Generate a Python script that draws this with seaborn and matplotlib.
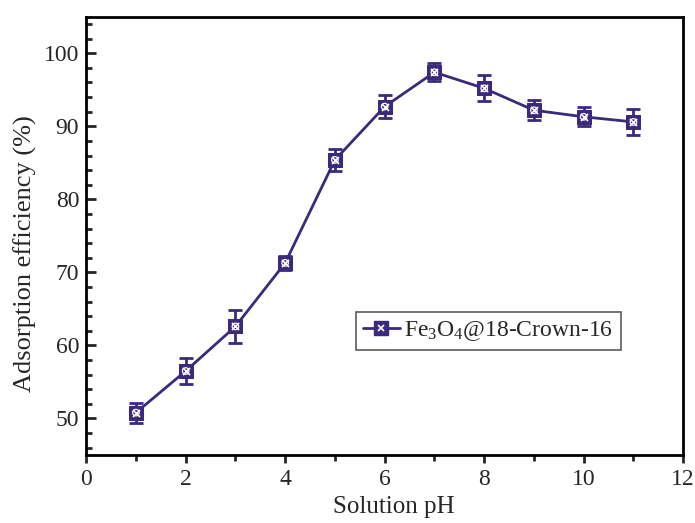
import numpy as np
import pandas as pd
import seaborn as sns
import matplotlib.pyplot as plt
from matplotlib.ticker import MultipleLocator
from matplotlib.lines import Line2D

ph = [1, 2, 3, 4, 5, 6, 7, 8, 9, 10, 11]
efficiency = [50.8, 56.5, 62.6, 71.3, 85.4, 92.7, 97.4, 95.2, 92.2, 91.3, 90.6]
err = [1.35, 1.8, 2.3, 1.0, 1.5, 1.6, 1.2, 1.8, 1.4, 1.3, 1.75]
label = "Fe$_3$O$_4$@18-Crown-16"

df = pd.DataFrame({"ph": ph, "eff": efficiency, "err": err})

sns.set_theme(style="white")
plt.rcParams["font.family"] = ["Liberation Serif", "DejaVu Serif"]
plt.rcParams["mathtext.fontset"] = "custom"
plt.rcParams["mathtext.rm"] = "Liberation Serif"
plt.rcParams["mathtext.it"] = "Liberation Serif"

color = "#3b2a7c"

fig = plt.figure(figsize=(6.95, 5.23), dpi=100)
ax = fig.add_axes([0.124, 0.130, 0.859, 0.838])

ax.errorbar(df["ph"], df["eff"], yerr=df["err"], fmt="none", ecolor=color,
            elinewidth=2, capsize=5, capthick=2, zorder=2)
sns.lineplot(data=df, x="ph", y="eff", color=color, linewidth=2, ax=ax,
             marker="s", markersize=10, markeredgecolor=color, zorder=3)
sns.scatterplot(data=df, x="ph", y="eff", marker="x", color="white", s=26,
                linewidth=1.2, ax=ax, zorder=4)
sns.scatterplot(data=df, x="ph", y="eff", marker="o", facecolor="none",
                edgecolor="white", s=22, linewidth=0.9, ax=ax, zorder=4)

ax.set_xlim(0, 12)
ax.set_ylim(45, 105)
ax.xaxis.set_major_locator(MultipleLocator(2))
ax.xaxis.set_minor_locator(MultipleLocator(1))
ax.yaxis.set_major_locator(MultipleLocator(10))
ax.yaxis.set_minor_locator(MultipleLocator(2))
ax.tick_params(axis="x", which="major", direction="out", length=6, width=2, labelsize=17, pad=4)
ax.tick_params(axis="x", which="minor", direction="out", length=4, width=2)
ax.tick_params(axis="y", which="major", direction="in", length=7, width=2, labelsize=17, pad=5)
ax.tick_params(axis="y", which="minor", direction="in", length=4, width=2)
ax.tick_params(bottom=True, left=True, which="both")
for s in ax.spines.values():
    s.set_linewidth(2)
    s.set_color("black")

ax.set_xlabel("Solution pH", fontsize=18)
ax.set_ylabel("Adsorption efficiency (%)", fontsize=19)
ax.xaxis.set_label_coords(0.515, -0.094)
ax.yaxis.set_label_coords(-0.082, 0.46)

h1 = Line2D([], [], color=color, linewidth=2, marker="s", markersize=10)
h2 = Line2D([], [], color="white", linestyle="none", marker="x", markersize=5, markeredgewidth=1.2)
leg = ax.legend([(h1, h2)], [label], loc="center left", bbox_to_anchor=(0.452, 0.283),
                fontsize=17, frameon=True, fancybox=False, edgecolor="#333333",
                handlelength=1.55, borderpad=0.3, handletextpad=0.2, borderaxespad=0)
leg.get_frame().set_linewidth(1.2)

fig.savefig("out.png", dpi=100)
